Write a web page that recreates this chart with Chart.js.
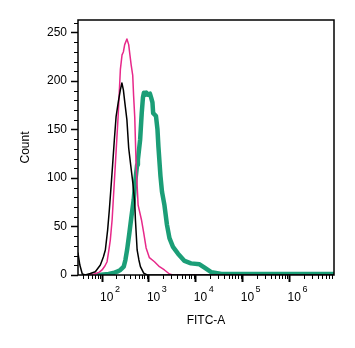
<!DOCTYPE html>
<html>
<head>
<meta charset="utf-8">
<script src="https://cdn.jsdelivr.net/npm/chart.js@4"></script>
<style>
  body { margin: 0; background: #fff; }
  #wrap { width: 355px; height: 348px; }
</style>
</head>
<body>
<div id="wrap"><canvas id="histChart"></canvas></div>
<script>
/* ================= DATA ================= */
const xMin = 30.7;
const xMax = 8.85e6;
const yMax = 263;
const yTicks = [0, 50, 100, 150, 200, 250];
const xDecades = [2, 3, 4, 5, 6];

// unstained control (black)
const controlFitc = [30.7, 33.6, 37.9, 44, 56.2, 71.9, 92, 106.6, 117.6, 131.7, 143, 154, 168, 183, 199, 223, 246, 265, 285, 304, 339, 370, 408, 451, 498, 515, 560, 611, 658, 774, 915, 1023, 8.85e6];
const controlCount = [22.7, 10.3, 1, 0, 1.5, 3.4, 10.3, 18.6, 25.8, 46.5, 67, 88, 113.6, 139.5, 163, 179, 191, 198, 191, 179, 160, 131, 113.6, 96, 75, 57, 25.8, 15.5, 8.6, 2, 0, 0, 0];

// isotype (pink)
const isotypeFitc = [51.8, 68.4, 87.5, 100, 115, 128, 140, 150, 164, 172, 192, 220, 246, 267, 285, 304, 339, 370, 393, 417, 451, 471, 498, 533, 588, 692, 774, 871, 1023, 1312, 1676, 2142, 2740, 3227, 8.85e6];
const isotypeCount = [0, 1, 3, 5.2, 9.3, 13.7, 25.8, 36, 57, 74, 113.6, 163, 212, 227, 230, 237.6, 243.5, 237.6, 227, 217, 206, 185, 163, 113.6, 72, 57, 43.4, 27.9, 17.9, 13.7, 8.6, 5.2, 1, 0, 0];

// stained sample (teal)
const sampleFitc = [84.6, 138, 174, 209, 246, 290, 315, 342, 383, 423, 473, 515, 560, 582, 649, 702, 745, 782, 841, 885, 943, 1050, 1114, 1188, 1230, 1412, 1521, 1596, 1762, 1897, 2142, 2425, 2740, 3258, 4169, 5741, 7888, 12000, 15350, 21640, 35400, 85900, 8.85e6];
const sampleCount = [0, 1, 2, 3.4, 5.2, 8.6, 15.5, 25.8, 43.4, 60, 77.5, 98, 113.6, 119, 139.5, 167, 183, 188, 186, 188, 186, 187, 183, 178, 167, 164, 150, 132, 102, 86, 72, 51.7, 38, 29, 22, 14.5, 12, 11, 7.5, 2.8, 1, 1, 1];

const toPoints = (xs, ys) => xs.map((x, i) => ({ x, y: ys[i] }));

const FONT = '"Liberation Sans", Arial, sans-serif';

/* ================= EXTRA AXIS DRAWING ================= */
const axisExtras = {
    id: "axisExtras",
    afterDraw(chart) {
        const { ctx, chartArea: a, scales } = chart;
        const xs = scales.x, ys = scales.y;
        ctx.save();

        // frame
        ctx.strokeStyle = "#000";
        ctx.lineWidth = 1.5;
        ctx.strokeRect(a.left, a.top, a.right - a.left, a.bottom - a.top);

        // minor ticks
        ctx.lineWidth = 1;
        ctx.beginPath();
        for (let n = 1; n <= 6; n++) {
            for (let m = 2; m <= 9; m++) {
                const v = m * Math.pow(10, n);
                if (v < xs.min || v > xs.max) continue;
                const px = Math.round(xs.getPixelForValue(v)) + 0.5;
                ctx.moveTo(px, a.bottom);
                ctx.lineTo(px, a.bottom + 4);
            }
        }
        for (let v = 10; v <= yMax; v += 10) {
            if (v % 50 === 0) continue;
            const py = Math.round(ys.getPixelForValue(v)) + 0.5;
            ctx.moveTo(a.left - 4, py);
            ctx.lineTo(a.left, py);
        }
        ctx.stroke();

        // decade labels 10^n
        ctx.fillStyle = "#000";
        ctx.textAlign = "left";
        ctx.textBaseline = "alphabetic";
        xDecades.forEach(e => {
            const px = xs.getPixelForValue(Math.pow(10, e));
            ctx.font = "12px " + FONT;
            ctx.fillText("10", px - 2, a.bottom + 26);
            const w = ctx.measureText("10").width;
            ctx.font = "9px " + FONT;
            ctx.fillText(String(e), px - 2 + w + 1.5, a.bottom + 16.5);
        });
        ctx.restore();
    }
};

/* ================= CHART ================= */
const line = (data, color, width) => ({
    data,
    borderColor: color,
    borderWidth: width,
    pointRadius: 0,
    tension: 0,
    fill: false,
    borderJoinStyle: "round",
    borderCapStyle: "round"
});

new Chart(document.getElementById("histChart"), {
    type: "line",
    data: {
        datasets: [
            line(toPoints(controlFitc, controlCount), "#000000", 1.5),
            line(toPoints(isotypeFitc, isotypeCount), "#E7298A", 1.5),
            line(toPoints(sampleFitc, sampleCount), "#1B9E77", 4.5)
        ]
    },
    options: {
        responsive: true,
        maintainAspectRatio: false,
        animation: false,
        layout: { padding: { left: 0, top: 20, right: 21, bottom: 0 } },
        plugins: { legend: { display: false }, tooltip: { enabled: false } },
        scales: {
            x: {
                type: "logarithmic",
                min: xMin,
                max: xMax,
                afterBuildTicks: s => { s.ticks = xDecades.map(e => ({ value: Math.pow(10, e), major: true })); },
                afterFit: s => { s.height = 73; },
                ticks: { display: false },
                grid: { drawOnChartArea: false, tickLength: 7, tickColor: "#000", tickWidth: 2 },
                border: { display: false },
                title: {
                    display: true,
                    text: "FITC-A",
                    color: "#000",
                    font: { family: FONT, size: 12 },
                    padding: { top: 0, bottom: 19.8 }
                }
            },
            y: {
                min: 0,
                max: yMax,
                afterBuildTicks: s => { s.ticks = yTicks.map(v => ({ value: v })); },
                afterFit: s => { s.width = 78; },
                ticks: { color: "#000", padding: 4, font: { family: FONT, size: 12 } },
                grid: { drawOnChartArea: false, tickLength: 7, tickColor: "#000", tickWidth: 1.5 },
                border: { display: false },
                title: {
                    display: true,
                    text: "Count",
                    color: "#000",
                    font: { family: FONT, size: 12 },
                    padding: { top: 18, bottom: 0 }
                }
            }
        }
    },
    plugins: [axisExtras]
});
</script>
</body>
</html>
